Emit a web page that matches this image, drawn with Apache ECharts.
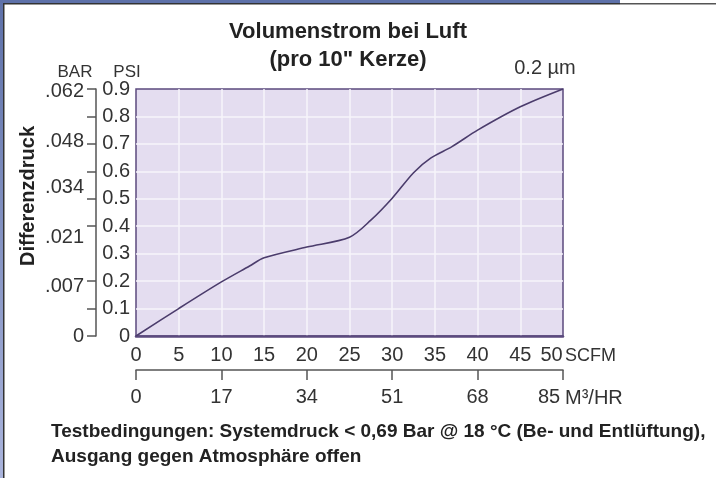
<!DOCTYPE html>
<html>
<head>
<meta charset="utf-8">
<title>Volumenstrom bei Luft</title>
<script src="https://cdn.jsdelivr.net/npm/echarts@6/dist/echarts.min.js"></script>
<style>
  html, body { margin: 0; padding: 0; background: #fff; }
  #chart { width: 716px; height: 478px; }
</style>
</head>
<body>
<div id="chart"></div>
<script>
  // Durchfluss (SCFM) und Differenzdruck (PSI)
  var scfm = [0, 5, 10, 13.3, 15, 20, 25, 27.5, 30, 32.5, 34.5, 37, 40, 45, 50];
  var psi = [0, 0.1, 0.197, 0.255, 0.285, 0.324, 0.36, 0.422, 0.502, 0.595, 0.648, 0.69, 0.75, 0.835, 0.9];

  // BAR-Skala: Beschriftungen und ihre Lage auf der PSI-Achse
  var barLabels = ['0', '.007', '.021', '.034', '.048', '.062'];
  var barLabelPsi = [0, 0.18, 0.36, 0.54, 0.71, 0.89];
  var barTickPsi = [0, 0.1, 0.2, 0.4, 0.5, 0.6, 0.7, 0.8, 0.9];

  var m3hrMax = 85;
  var m3hrStep = 17;
  var filterName = '0.2 µm';

  var font = 'Liberation Sans, Arial, sans-serif';
  var textColor = '#333';
  var purple = '#4b3c6c';

  var chart = echarts.init(document.getElementById('chart'), null, {renderer: 'canvas'});

  var lineData = scfm.map(function (x, i) {
    var item = {value: [x, psi[i]]};
    if (i === scfm.length - 1) {
      item.label = {
        show: true,
        position: 'top',
        distance: 5,
        offset: [-18, -6],
        formatter: filterName,
        color: textColor,
        fontSize: 20,
        fontFamily: font
      };
    }
    return item;
  });

  chart.setOption({
    animation: false,
    textStyle: {fontFamily: font},
    title: {
      text: 'Volumenstrom bei Luft\n(pro 10" Kerze)',
      left: 343,
      top: 13,
      textAlign: 'center',
      textStyle: {
        fontSize: 22,
        fontWeight: 'bold',
        lineHeight: 28,
        color: '#222',
        fontFamily: font
      }
    },
    grid: {
      left: 136,
      top: 89,
      width: 427,
      height: 247,
      show: true,
      backgroundColor: '#e4ddf0',
      borderColor: '#5b4a7e',
      borderWidth: 1.5,
      containLabel: false,
      outerBoundsMode: 'none'
    },
    xAxis: [{
      type: 'value',
      min: 0,
      max: 50,
      interval: 5,
      position: 'bottom',
      axisLine: {show: true, onZero: false, lineStyle: {color: '#5b4a7e', width: 2.5}},
      axisTick: {show: false},
      axisLabel: {
        margin: 9,
        fontSize: 20,
        color: textColor,
        formatter: function (v) {
          return v === 50 ? '{last|50}' : String(v);
        },
        rich: {
          last: {fontSize: 20, color: textColor, padding: [0, 23, 0, 0]}
        }
      },
      splitLine: {
        show: true,
        showMinLine: false,
        showMaxLine: false,
        lineStyle: {color: '#f7f4fb', width: 1.5}
      }
    }, {
      type: 'value',
      min: 0,
      max: m3hrMax,
      interval: m3hrStep,
      position: 'bottom',
      offset: 34,
      axisLine: {show: true, onZero: false, lineStyle: {color: '#555', width: 1.5}},
      axisTick: {show: true, length: 10, lineStyle: {color: '#555', width: 1.5}},
      axisLabel: {
        margin: 17,
        fontSize: 20,
        color: textColor,
        formatter: function (v) {
          return v === m3hrMax ? '{last|' + v + '}' : String(v);
        },
        rich: {
          last: {fontSize: 20, color: textColor, padding: [0, 28, 0, 0]}
        }
      },
      splitLine: {show: false}
    }],
    yAxis: [{
      type: 'value',
      min: 0,
      max: 0.9,
      interval: 0.1,
      position: 'left',
      axisLine: {show: false, onZero: false},
      axisTick: {show: false},
      axisLabel: {
        margin: 6,
        fontSize: 20,
        color: textColor,
        formatter: function (v) {
          return v === 0 ? '0' : v.toFixed(1);
        }
      },
      splitLine: {
        show: true,
        showMinLine: false,
        showMaxLine: false,
        lineStyle: {color: '#f7f4fb', width: 1.5}
      }
    }, {
      type: 'value',
      min: 0,
      max: 0.9,
      position: 'left',
      offset: 40,
      axisLine: {show: true, onZero: false, lineStyle: {color: '#555', width: 1.5}},
      axisTick: {
        show: true,
        length: 9,
        customValues: barTickPsi,
        lineStyle: {color: '#555', width: 1.5}
      },
      axisLabel: {
        margin: 12,
        fontSize: 20,
        color: textColor,
        customValues: barLabelPsi,
        formatter: function (v) {
          var i = barLabelPsi.indexOf(v);
          return i > -1 ? barLabels[i] : '';
        }
      },
      splitLine: {show: false}
    }],
    series: [{
      name: 'Differenzdruck',
      type: 'line',
      xAxisIndex: 0,
      yAxisIndex: 0,
      smooth: 0.3,
      symbol: 'circle',
      symbolSize: 0,
      showSymbol: true,
      lineStyle: {color: purple, width: 1.6},
      data: lineData
    }],
    graphic: [
      // Rahmen der Vorlage
      {type: 'rect', shape: {x: 0, y: 0, width: 620, height: 3}, style: {fill: '#5e71a9'}},
      {type: 'rect', shape: {x: 620, y: 3, width: 96, height: 1.5}, style: {fill: '#555'}},
      {
        type: 'rect',
        shape: {x: 0, y: 0, width: 3, height: 478},
        style: {
          fill: new echarts.graphic.LinearGradient(0, 0, 0, 1, [
            {offset: 0, color: '#5e71a9'},
            {offset: 1, color: '#aab4dc'}
          ])
        }
      },
      {type: 'rect', shape: {x: 3, y: 3, width: 1.5, height: 475}, style: {fill: '#333'}},
      {type: 'rect', shape: {x: 3, y: 3, width: 617, height: 1.5}, style: {fill: '#333'}},
      {
        type: 'text', x: 28, y: 196, rotation: Math.PI / 2,
        style: {
          text: 'Differenzdruck', fill: '#222', font: 'bold 20px ' + font,
          textAlign: 'center', textVerticalAlign: 'middle'
        }
      },
      {
        type: 'text', x: 75, y: 72,
        style: {text: 'BAR', fill: textColor, font: '17px ' + font, textAlign: 'center', textVerticalAlign: 'middle'}
      },
      {
        type: 'text', x: 127, y: 72,
        style: {text: 'PSI', fill: textColor, font: '17px ' + font, textAlign: 'center', textVerticalAlign: 'middle'}
      },
      {
        type: 'text', x: 565, y: 356,
        style: {text: 'SCFM', fill: textColor, font: '18px ' + font, textAlign: 'left', textVerticalAlign: 'middle'}
      },
      {
        type: 'text', x: 565, y: 398,
        style: {text: 'M³/HR', fill: textColor, font: '20px ' + font, textAlign: 'left', textVerticalAlign: 'middle'}
      },
      {
        type: 'text', x: 51, y: 432,
        style: {
          text: 'Testbedingungen: Systemdruck < 0,69 Bar @ 18 °C (Be- und Entlüftung),',
          fill: '#222', font: 'bold 19px ' + font, textAlign: 'left', textVerticalAlign: 'middle'
        }
      },
      {
        type: 'text', x: 51, y: 457,
        style: {
          text: 'Ausgang gegen Atmosphäre offen',
          fill: '#222', font: 'bold 19px ' + font, textAlign: 'left', textVerticalAlign: 'middle'
        }
      }
    ]
  });
</script>
</body>
</html>
